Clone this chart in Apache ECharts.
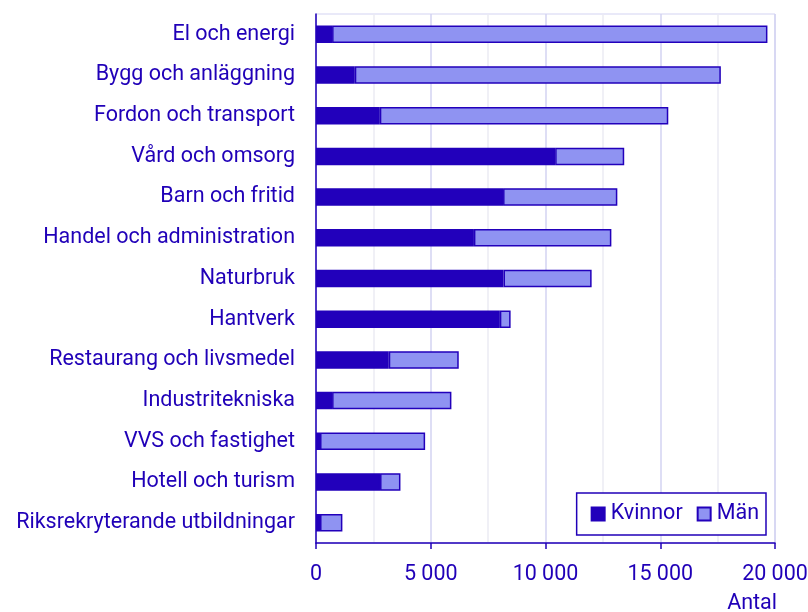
<!DOCTYPE html>
<html>
<head>
<meta charset="utf-8">
<script src="https://cdn.jsdelivr.net/npm/echarts@6/dist/echarts.min.js"></script>
<style>
  html, body { margin: 0; padding: 0; background: #fff; }
  #chart { width: 808px; height: 612px; }
</style>
</head>
<body>
<div id="chart"></div>
<script>
// utbildningsområden
var categories = [
    'El och energi', 'Bygg och anläggning', 'Fordon och transport', 'Vård och omsorg',
    'Barn och fritid', 'Handel och administration', 'Naturbruk', 'Hantverk',
    'Restaurang och livsmedel', 'Industritekniska', 'VVS och fastighet',
    'Hotell och turism', 'Riksrekryterande utbildningar'
];
var kvinnor = [700, 1690, 2780, 10420, 8150, 6880, 8170, 8010, 3170, 700, 175, 2790, 175];
var man = [18970, 15950, 12570, 3010, 4980, 5990, 3840, 470, 3050, 5200, 4580, 890, 975];
var xTicks = [0, 5000, 10000, 15000, 20000];

var textColor = '#2000b8';
var darkBar = '#2200bb';
var lightBar = '#8f93f2';

var myChart = echarts.init(document.getElementById('chart'));

function fmt(v) {
    return String(v).replace(/\B(?=(\d{3})+(?!\d))/g, ' ');
}

var option = {
    animation: false,
    textStyle: { fontFamily: 'Roboto', color: textColor },
    grid: {
        left: 316, right: 33, top: 14, bottom: 69,
        containLabel: false,
        outerBoundsMode: 'none',
        show: true, borderColor: '#d3d3f2', borderWidth: 1
    },
    legend: {
        right: 42, bottom: 77,
        orient: 'horizontal',
        data: ['Kvinnor', 'Män'],
        icon: 'rect',
        itemWidth: 13, itemHeight: 13, itemGap: 14,
        backgroundColor: '#fff',
        borderColor: textColor, borderWidth: 1.5,
        padding: [10, 7, 10, 14],
        textStyle: { fontSize: 21.5, color: textColor, fontFamily: 'Roboto', padding: [0, 0, 0, 1] }
    },
    xAxis: {
        type: 'value',
        min: xTicks[0], max: xTicks[xTicks.length - 1], interval: 5000,
        name: 'Antal',
        nameLocation: 'end',
        nameGap: 0,
        nameTextStyle: { fontSize: 21.5, color: textColor, align: 'right', verticalAlign: 'top', padding: [50, -2, 0, 0] },
        axisLine: { show: true, lineStyle: { color: textColor, width: 1.5 } },
        axisTick: { show: true, length: 6, lineStyle: { color: textColor, width: 1.5 } },
        axisLabel: { fontSize: 21.5, color: textColor, margin: 21, formatter: fmt },
        splitLine: { show: true, lineStyle: { color: '#d3d3f2', width: 1.5 } },
        minorTick: { show: false, splitNumber: 2 },
        minorSplitLine: { show: true, lineStyle: { color: '#ebebf3', width: 1.5 } }
    },
    yAxis: {
        type: 'category',
        data: categories,
        inverse: true,
        axisLine: { show: true, lineStyle: { color: textColor, width: 1.5 } },
        axisTick: { show: false },
        axisLabel: { fontSize: 21.5, color: textColor, margin: 21 },
        splitLine: { show: false }
    },
    series: [
        {
            name: 'Kvinnor',
            type: 'bar',
            stack: 'antal',
            barWidth: '43%',
            data: kvinnor,
            itemStyle: { color: darkBar, borderColor: darkBar, borderWidth: 1.5 }
        },
        {
            name: 'Män',
            type: 'bar',
            stack: 'antal',
            barWidth: '43%',
            data: man,
            itemStyle: { color: lightBar, borderColor: darkBar, borderWidth: 1.5 }
        }
    ]
};
myChart.setOption(option);
</script>
</body>
</html>
